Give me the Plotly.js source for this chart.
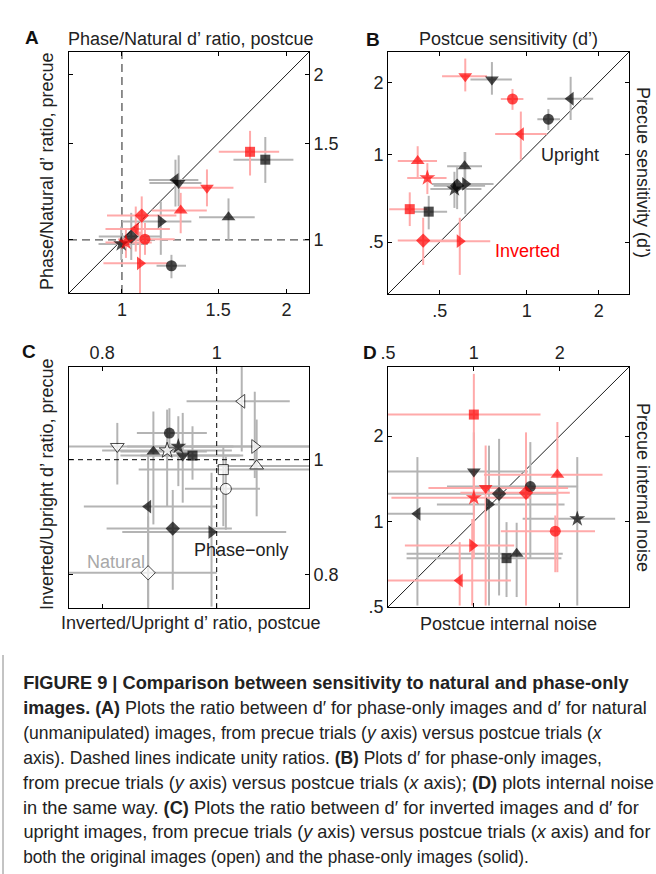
<!DOCTYPE html>
<html><head><meta charset="utf-8">
<script src="https://cdn.plot.ly/plotly-3.0.1.min.js"></script>
<style>html,body{margin:0;padding:0;background:#fff}#chart{width:656px;height:874px}</style>
</head><body><div id="chart"></div>
<script>
// ---------- DATA ----------
// observer symbols (same order in every series)
const SYMBOLS = ['square','circle','triangle-up','triangle-down','triangle-left','triangle-right','diamond','star'];

// Panel A: Phase/Natural d' ratio (black = upright, red = inverted)
const A_black_x   = [1.83, 1.232, 1.567, 1.27, 1.253, 1.178, 1.04, 0.997];
const A_black_y   = [1.40, 0.897, 1.10, 1.27, 1.286, 1.080, 1.014, 0.983];
const A_black_xlo = [1.60, 1.157, 1.384, 1.123, 1.12, 1.0, 0.907, 0.906];
const A_black_xhi = [2.06, 1.31, 1.75, 1.398, 1.38, 1.34, 1.174, 1.116];
const A_black_ylo = [1.27, 0.851, 1.0, 1.151, 1.15, 0.939, 0.919, 0.919];
const A_black_yhi = [1.54, 0.939, 1.19, 1.426, 1.40, 1.175, 1.12, 1.057];
const A_red_x   = [1.716, 1.102, 1.281, 1.431, 1.06, 1.079, 1.087, 1.017];
const A_red_y   = [1.447, 1.003, 1.131, 1.244, 1.046, 0.906, 1.107, 0.989];
const A_red_xlo = [1.504, 0.985, 1.134, 1.276, 0.933, 0.925, 0.939, 0.933];
const A_red_xhi = [1.94, 1.249, 1.43, 1.60, 1.224, 1.213, 1.258, 1.134];
const A_red_ylo = [1.31, 0.939, 1.028, 1.151, 0.952, 0.799, 1.007, 0.927];
const A_red_yhi = [1.58, 1.074, 1.218, 1.344, 1.15, 1.035, 1.2, 1.043];
const A_tickVals = [1, 1.5, 2];
const A_tickText = ['1', '1.5', '2'];

// Panel B: sensitivity d' for phase-only images (black = upright, red = inverted)
const B_black_x   = [0.465, 1.22, 0.597, 0.740, 1.511, 0.600, 0.565, 0.554];
const B_black_y   = [0.622, 1.39, 0.903, 2.058, 1.697, 0.776, 0.765, 0.744];
const B_black_xlo = [0.424, 1.101, 0.526, 0.624, 1.208, 0.475, 0.48, 0.47];
const B_black_xhi = [0.526, 1.363, 0.683, 0.876, 1.89, 0.75, 0.70, 0.68];
const B_black_ylo = [0.546, 1.254, 0.776, 1.767, 1.38, 0.61, 0.634, 0.64];
const B_black_yhi = [0.704, 1.533, 1.024, 2.46, 2.115, 1.024, 0.895, 0.86];
const B_red_x   = [0.414, 0.881, 0.434, 0.600, 0.948, 0.576, 0.449, 0.461];
const B_red_y   = [0.634, 1.693, 0.944, 2.128, 1.207, 0.503, 0.505, 0.816];
const B_red_xlo = [0.37, 0.797, 0.387, 0.508, 0.76, 0.461, 0.387, 0.408];
const B_red_xhi = [0.461, 0.97, 0.491, 0.711, 1.201, 0.73, 0.571, 0.524];
const B_red_ylo = [0.559, 1.522, 0.821, 1.826, 0.956, 0.4075, 0.432, 0.714];
const B_red_yhi = [0.724, 1.87, 1.079, 2.55, 1.497, 0.594, 0.594, 0.927];
const B_tickVals = [0.5, 1, 2];
const B_tickText = ['.5', '1', '2'];

// Panel C: Inverted/Upright d' ratio (solid = phase-only, open = natural)
const C_phase_x   = [0.954, 0.912, 0.884, 0.936, 0.875, 0.990, 0.918, 0.928];
const C_phase_y   = [1.008, 1.053, 1.016, 1.008, 0.913, 0.869, 0.875, 1.026];
const C_phase_xlo = [0.862, 0.856, 0.829, 0.829, 0.772, 0.832, 0.807, 0.84];
const C_phase_xhi = [1.046, 0.981, 0.981, 1.053, 1.0, 1.145, 1.03, 1.033];
const C_phase_ylo = [0.962, 1.006, 0.882, 0.92, 0.752, 0.752, 0.777, 0.95];
const C_phase_yhi = [1.067, 1.105, 1.098, 1.095, 1.013, 0.975, 0.943, 1.088];
const C_natural_x   = [1.013, 1.018, 1.081, 0.824, 1.05, 1.077, 0.875, 0.908];
const C_natural_y   = [0.981, 0.945, 0.988, 1.026, 1.12, 1.026, 0.803, 1.018];
const C_natural_xlo = [0.859, 0.94, 1.0, 0.75, 0.943, 0.949, 0.75, 0.80];
const C_natural_xhi = [1.2, 1.088, 1.2, 1.2, 1.153, 1.2, 1.0, 1.03];
const C_natural_ylo = [0.879, 0.873, 0.896, 0.953, 1.016, 0.965, 0.75, 0.913];
const C_natural_yhi = [1.026, 1.006, 1.081, 1.074, 1.2, 1.141, 0.896, 1.102];
const C_tickVals = [0.8, 1, 1.2];
const C_tickText = ['0.8', '1', '1.2'];

// Panel D: internal noise (black = upright, red = inverted)
const D_black_x   = [1.302, 1.578, 1.413, 1.0, 0.634, 1.13, 1.226, 2.305];
const D_black_y   = [0.743, 1.328, 0.77, 1.5, 1.064, 1.148, 1.252, 1.022];
const D_black_xlo = [0.581, 0.805, 0.581, 0.5, 0.5, 0.742, 0.5, 1.483];
const D_black_xhi = [2.028, 2.32, 2.05, 1.546, 1.0, 2.08, 1.974, 3.13];
const D_black_ylo = [0.542, 0.739, 0.542, 1.05, 0.506, 0.506, 0.549, 0.506];
const D_black_yhi = [0.995, 1.904, 0.99, 2.06, 1.686, 1.85, 1.955, 1.686];
const D_red_x   = [1.0, 1.93, 1.963, 1.1, 0.892, 0.987, 1.524, 1.0];
const D_red_y   = [2.38, 0.925, 1.46, 1.311, 0.62, 0.823, 1.262, 1.212];
const D_red_xlo = [0.5, 1.243, 1.085, 0.693, 0.5, 0.573, 0.897, 0.514];
const D_red_xhi = [1.713, 2.66, 2.826, 2.14, 1.349, 1.385, 2.17, 1.588];
const D_red_ylo = [1.27, 0.663, 0.663, 0.506, 0.506, 0.506, 0.506, 0.74];
const D_red_yhi = [3.31, 1.05, 2.24, 1.852, 0.846, 1.02, 2.06, 1.452];
const D_tickVals = [0.5, 1, 2];
const D_tickText = ['.5', '1', '2'];

const CAPTION_LINES = [
  '<b>FIGURE 9 | Comparison between sensitivity to natural and phase-only</b>',
  '<b>images. (A)</b> Plots the ratio between d′ for phase-only images and d′ for natural',
  '(unmanipulated) images, from precue trials (<i>y</i> axis) versus postcue trials (<i>x</i>',
  'axis). Dashed lines indicate unity ratios. <b>(B)</b> Plots d′ for phase-only images,',
  'from precue trials (<i>y</i> axis) versus postcue trials (<i>x</i> axis); <b>(D)</b> plots internal noise',
  'in the same way. <b>(C)</b> Plots the ratio between d′ for inverted images and d′ for',
  'upright images, from precue trials (<i>y</i> axis) versus postcue trials (<i>x</i> axis) and for',
  'both the original images (open) and the phase-only images (solid).'
];

// ---------- STYLE / BUILD ----------
const W = 656, H = 874;
const FONT = 'Liberation Sans, Arial, Helvetica, sans-serif';
const CAP_SIZE = 17.5, CAP_LEFT = 21;
// right end (px) of each caption line in the reference layout, used to fit line widths
const CAP_RIGHT = [627, 645, 601, 600, 652, 637, 649, 527];
const fx = v => v / W;
const fy = v => 1 - v / H;
const L10 = Math.log10;
// panel B axis: d' is drawn on a log scale of (d' - B_SHIFT), matching the original's tick spacing
const B_SHIFT = 0.2;
const bT = arr => arr.map(v => v - B_SHIFT);
const SIZE_OF = {square: 10, circle: 11, 'triangle-up': 12, 'triangle-down': 12, 'triangle-left': 12, 'triangle-right': 12, diamond: 11, star: 12};
const sizes = SYMBOLS.map(s => SIZE_OF[s]);

function errTrace(x, y, xlo, xhi, ylo, yhi, xa, ya, color) {
  return {
    type: 'scatter', mode: 'markers', x, y, xaxis: xa, yaxis: ya,
    marker: {size: 1, color: 'rgba(0,0,0,0)'},
    error_x: {type: 'data', symmetric: false, array: xhi.map((v, i) => v - x[i]), arrayminus: xlo.map((v, i) => x[i] - v), color, thickness: 2, width: 0},
    error_y: {type: 'data', symmetric: false, array: yhi.map((v, i) => v - y[i]), arrayminus: ylo.map((v, i) => y[i] - v), color, thickness: 2, width: 0},
    hoverinfo: 'skip', showlegend: false
  };
}
function markTrace(x, y, xa, ya, color, open) {
  return {
    type: 'scatter', mode: 'markers', x, y, xaxis: xa, yaxis: ya,
    marker: {symbol: SYMBOLS, size: sizes, color: open ? '#fff' : color, line: {color: open ? '#000' : color, width: open ? 1 : 0}},
    hoverinfo: 'skip', showlegend: false
  };
}
function refLine(x, y, xa, ya, color, width, dash) {
  return {type: 'scatter', mode: 'lines', x, y, xaxis: xa, yaxis: ya, line: {color, width, dash: dash || 'solid'}, hoverinfo: 'skip', showlegend: false};
}

const GRAY = '#b4b4b4', PINK = '#ffaaaa', RED = '#ff0000';

const A_rng = [0.8, 2.2], B_rng = [0.1675, 2.53], C_rng = [0.75, 1.197], D_rng = [0.5, 3.5];

const traces = [
  // A
  refLine([1, 1], A_rng, 'x', 'y', '#555', 1.3, '8px,5px'),
  refLine(A_rng, [1, 1], 'x', 'y', '#555', 1.3, '8px,5px'),
  refLine(A_rng, A_rng, 'x', 'y', '#000', 0.9),
  errTrace(A_black_x, A_black_y, A_black_xlo, A_black_xhi, A_black_ylo, A_black_yhi, 'x', 'y', GRAY),
  errTrace(A_red_x, A_red_y, A_red_xlo, A_red_xhi, A_red_ylo, A_red_yhi, 'x', 'y', PINK),
  markTrace(A_black_x, A_black_y, 'x', 'y', '#000'),
  markTrace(A_red_x, A_red_y, 'x', 'y', RED),
  // B
  refLine(B_rng, B_rng, 'x2', 'y2', '#000', 0.9),
  errTrace(bT(B_black_x), bT(B_black_y), bT(B_black_xlo), bT(B_black_xhi), bT(B_black_ylo), bT(B_black_yhi), 'x2', 'y2', GRAY),
  errTrace(bT(B_red_x), bT(B_red_y), bT(B_red_xlo), bT(B_red_xhi), bT(B_red_ylo), bT(B_red_yhi), 'x2', 'y2', PINK),
  markTrace(bT(B_black_x), bT(B_black_y), 'x2', 'y2', '#000'),
  markTrace(bT(B_red_x), bT(B_red_y), 'x2', 'y2', RED),
  // C
  errTrace(C_natural_x, C_natural_y, C_natural_xlo, C_natural_xhi, C_natural_ylo, C_natural_yhi, 'x3', 'y3', GRAY),
  errTrace(C_phase_x, C_phase_y, C_phase_xlo, C_phase_xhi, C_phase_ylo, C_phase_yhi, 'x3', 'y3', GRAY),
  refLine([1, 1], C_rng, 'x3', 'y3', '#000', 1, '5px,4px'),
  refLine(C_rng, [1, 1], 'x3', 'y3', '#000', 1, '5px,4px'),
  markTrace(C_natural_x, C_natural_y, 'x3', 'y3', '#000', true),
  markTrace(C_phase_x, C_phase_y, 'x3', 'y3', '#000'),
  // D
  refLine(D_rng, D_rng, 'x4', 'y4', '#000', 0.9),
  errTrace(D_black_x, D_black_y, D_black_xlo, D_black_xhi, D_black_ylo, D_black_yhi, 'x4', 'y4', GRAY),
  errTrace(D_red_x, D_red_y, D_red_xlo, D_red_xhi, D_red_ylo, D_red_yhi, 'x4', 'y4', PINK),
  markTrace(D_black_x, D_black_y, 'x4', 'y4', '#000'),
  markTrace(D_red_x, D_red_y, 'x4', 'y4', RED)
];

function ax(extra) {
  return Object.assign({
    type: 'log', showline: true, linecolor: '#000', linewidth: 1, mirror: 'ticks',
    ticks: 'inside', ticklen: 4, tickwidth: 1, tickcolor: '#000',
    showgrid: false, zeroline: false, automargin: false, fixedrange: true,
    tickfont: {family: FONT, size: 18, color: '#222'}, tickmode: 'array'
  }, extra);
}
const logR = r => [L10(r[0]), L10(r[1])];

const ann = (text, x, y, o) => Object.assign({text, xref: 'paper', yref: 'paper', x: fx(x), y: fy(y), showarrow: false,
  xanchor: 'center', yanchor: 'middle', font: {family: FONT, size: 18, color: '#222'}}, o || {});

const annotations = [
  ann('<b>A</b>', 32, 38, {font: {family: FONT, size: 19, color: '#111'}}),
  ann('<b>B</b>', 373, 39, {font: {family: FONT, size: 19, color: '#111'}}),
  ann('<b>C</b>', 29, 351, {font: {family: FONT, size: 19, color: '#111'}}),
  ann('<b>D</b>', 370, 352, {font: {family: FONT, size: 19, color: '#111'}}),
  ann('Phase/Natural d’ ratio, postcue', 190, 39),
  ann('Phase/Natural d’ ratio, precue', 47, 172, {textangle: -90}),
  ann('Postcue sensitivity (d’)', 508, 39),
  ann('Precue sensitivity (d’)', 643, 172, {textangle: 90}),
  ann('Inverted/Upright d’ ratio, precue', 47, 485, {textangle: -90}),
  ann('Inverted/Upright d’ ratio, postcue', 190, 623),
  ann('Postcue internal noise', 508, 624),
  ann('Precue internal noise', 643, 487, {textangle: 90}),
  ann('Upright', 570, 155),
  ann('Inverted', 527, 251, {font: {family: FONT, size: 18, color: RED}}),
  ann('Natural', 116, 562, {font: {family: FONT, size: 18, color: '#a8a8a8'}}),
  ann('Phase−only', 241, 550)
];
const CAP_START = annotations.length;
CAPTION_LINES.forEach((t, i) => annotations.push(ann(t, CAP_LEFT, 683 + i * 24.9, {xanchor: 'left', font: {family: FONT, size: CAP_SIZE, color: '#222'}})));

const layout = {
  width: W, height: H, margin: {l: 0, r: 0, t: 0, b: 0}, paper_bgcolor: '#fff', plot_bgcolor: '#fff',
  showlegend: false,
  xaxis:  ax({domain: [fx(69), fx(309)], anchor: 'y', range: logR(A_rng), tickvals: A_tickVals, ticktext: A_tickText, side: 'bottom'}),
  yaxis:  ax({domain: [fy(293), fy(52)], anchor: 'x', range: logR(A_rng), tickvals: A_tickVals, ticktext: A_tickText, side: 'right'}),
  xaxis2: ax({domain: [fx(388), fx(629)], anchor: 'y2', range: logR(B_rng), tickvals: bT(B_tickVals), ticktext: B_tickText, side: 'bottom'}),
  yaxis2: ax({domain: [fy(294), fy(52)], anchor: 'x2', range: logR(B_rng), tickvals: bT(B_tickVals), ticktext: B_tickText, side: 'left'}),
  xaxis3: ax({domain: [fx(69), fx(309)], anchor: 'y3', range: logR(C_rng), tickvals: C_tickVals, ticktext: C_tickText, side: 'top'}),
  yaxis3: ax({domain: [fy(608), fy(367)], anchor: 'x3', range: logR(C_rng), tickvals: C_tickVals, ticktext: C_tickText, side: 'right'}),
  xaxis4: ax({domain: [fx(388), fx(629)], anchor: 'y4', range: logR(D_rng), tickvals: D_tickVals, ticktext: D_tickText, side: 'top'}),
  yaxis4: ax({domain: [fy(607), fy(367)], anchor: 'x4', range: logR(D_rng), tickvals: D_tickVals, ticktext: D_tickText, side: 'left'}),
  annotations,
  shapes: [{type: 'line', xref: 'paper', yref: 'paper', x0: fx(3), x1: fx(3), y0: fy(655), y1: 0, line: {color: '#888', width: 1}}]
};

Plotly.newPlot('chart', traces, layout, {staticPlot: true, displayModeBar: false}).then(() => {
  // fit each caption line to the reference line width (small horizontal adjustment)
  CAPTION_LINES.forEach((t, i) => {
    const el = document.querySelector('.annotation[data-index="' + (CAP_START + i) + '"] text.annotation-text');
    if (!el) return;
    const bb = el.getBBox();
    if (!bb.width) return;
    let s = (CAP_RIGHT[i] - CAP_LEFT) / bb.width;
    s = Math.max(0.8, Math.min(1.2, s));
    el.setAttribute('transform', 'translate(' + bb.x + ',0) scale(' + s + ',1) translate(' + (-bb.x) + ',0)');
  });
});
</script>
</body></html>
